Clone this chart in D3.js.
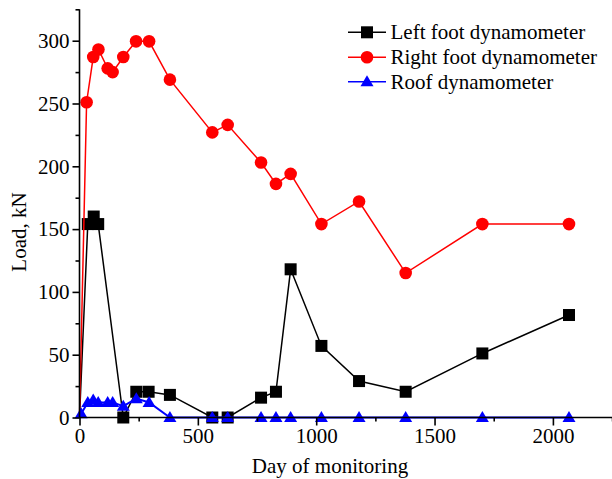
<!DOCTYPE html>
<html><head><meta charset="utf-8">
<script src="https://cdn.jsdelivr.net/npm/d3@7"></script>
<style>body{margin:0;background:#fff}svg{display:block}text{font-family:"Liberation Serif","Times New Roman",serif;fill:#000}</style>
</head><body><svg id="c" width="612" height="479"></svg>
<script>
const leftDays  = [0, 35, 60, 79, 185, 240, 292, 382, 561, 626, 767, 830, 892, 1022, 1181, 1378, 1702, 2068];
const leftLoad  = [0, 154, 160, 154, 0, 20.5, 20.5, 18, 0, 0, 15.8, 20.5, 118, 57, 29, 20.5, 51, 81.6];
const rightDays = [0, 30, 58, 80, 119, 140, 185, 239, 294, 382, 561, 626, 767, 830, 892, 1022, 1181, 1378, 1702, 2068];
const rightLoad = [0, 251, 287, 293, 278, 275, 287, 299.5, 299.5, 269, 227, 233, 203, 186, 194, 154, 172, 115, 154, 154];
const roofDays  = [7, 35, 58, 79, 119, 140, 185, 240, 294, 382, 561, 626, 767, 830, 892, 1022, 1181, 1378, 1702, 2068];
const roofLoad  = [3, 12, 14, 12, 12, 12, 9, 15, 12, 0, 0, 0, 0, 0, 0, 0, 0, 0, 0, 0];
const seriesNames = ["Left foot dynamometer", "Right foot dynamometer", "Roof dynamometer"];
const xTicks = [0, 500, 1000, 1500, 2000];
const yTicks = [0, 50, 100, 150, 200, 250, 300];
const xLabel = "Day of monitoring", yLabel = "Load, kN";

const svg = d3.select("#c");
const x = d3.scaleLinear().domain([0, 2250]).range([79.5, 79.5 + 2250 * 0.2367]);
const y = d3.scaleLinear().domain([0, 325]).range([417.5, 417.5 - 325 * 1.256]);

const series = [
  {name: seriesNames[0], color: "#000", sym: "square", data: leftDays.map((d, i) => [d, leftLoad[i]])},
  {name: seriesNames[1], color: "#ff0000", sym: "circle", data: rightDays.map((d, i) => [d, rightLoad[i]])},
  {name: seriesNames[2], color: "#0000ff", sym: "triangle", data: roofDays.map((d, i) => [d, roofLoad[i]])}
];

function marker(g, sym, color, cx, cy) {
  if (sym === "square") g.append("rect").attr("x", cx - 6).attr("y", cy - 6).attr("width", 12).attr("height", 12).attr("fill", color);
  else if (sym === "circle") g.append("circle").attr("cx", cx).attr("cy", cy).attr("r", 6.3).attr("fill", color);
  else g.append("path").attr("d", `M${cx},${cy - 6.5}L${cx + 6.5},${cy + 4.5}L${cx - 6.5},${cy + 4.5}Z`).attr("fill", color);
}

const line = d3.line().x(d => x(d[0])).y(d => y(d[1]));
series.forEach(s => {
  const g = svg.append("g");
  g.append("path").attr("d", line(s.data)).attr("fill", "none").attr("stroke", s.color).attr("stroke-width", s.sym === "triangle" ? 2 : 1.5);
  s.data.filter(d => d[0] > 0).forEach(d => marker(g, s.sym, s.color, x(d[0]), y(d[1])));
});

// axes
const ax = svg.append("g").attr("transform", `translate(0,${y(0)})`)
  .call(d3.axisBottom(x).tickValues(xTicks).tickSize(8).tickPadding(3).tickFormat(d3.format("d")));
ax.select(".domain").attr("d", `M${x(0)},0H612`).attr("stroke-width", 1.6);
ax.selectAll(".tick line").attr("stroke-width", 1.6);
ax.selectAll("text").attr("font-size", 21).attr("font-family", "Liberation Serif");
svg.append("g").attr("transform", `translate(0,${y(0)})`)
  .call(d3.axisBottom(x).tickValues([250, 750, 1250, 1750, 2250]).tickSize(4).tickFormat(""))
  .call(g => g.select(".domain").remove()).selectAll("line").attr("stroke-width", 1.6);

const ay = svg.append("g").attr("transform", `translate(${x(0)},0)`)
  .call(d3.axisLeft(y).tickValues(yTicks).tickSize(7).tickPadding(3));
ay.select(".domain").attr("d", `M0,${y(325)}V${y(0)}`).attr("stroke-width", 1.6);
ay.selectAll(".tick line").attr("stroke-width", 1.6);
ay.selectAll("text").attr("font-size", 21).attr("font-family", "Liberation Serif");
svg.append("g").attr("transform", `translate(${x(0)},0)`)
  .call(d3.axisLeft(y).tickValues([25, 75, 125, 175, 225, 275, 325]).tickSize(4).tickFormat(""))
  .call(g => g.select(".domain").remove()).selectAll("line").attr("stroke-width", 1.6);

svg.append("text").attr("x", 330).attr("y", 473).attr("text-anchor", "middle").attr("font-size", 21).text(xLabel);
svg.append("text").attr("transform", "translate(25.5,232) rotate(-90)").attr("text-anchor", "middle").attr("font-size", 21).text(yLabel);

// legend
const rows = [32.3, 57.3, 81.7];
series.forEach((s, i) => {
  const g = svg.append("g");
  g.append("line").attr("x1", 348).attr("x2", 386).attr("y1", rows[i]).attr("y2", rows[i]).attr("stroke", s.color).attr("stroke-width", 1.5);
  marker(g, s.sym, s.color, 367, rows[i]);
  g.append("text").attr("x", 390.5).attr("y", rows[i] + 7).attr("font-size", 21).text(s.name);
});
</script></body></html>
